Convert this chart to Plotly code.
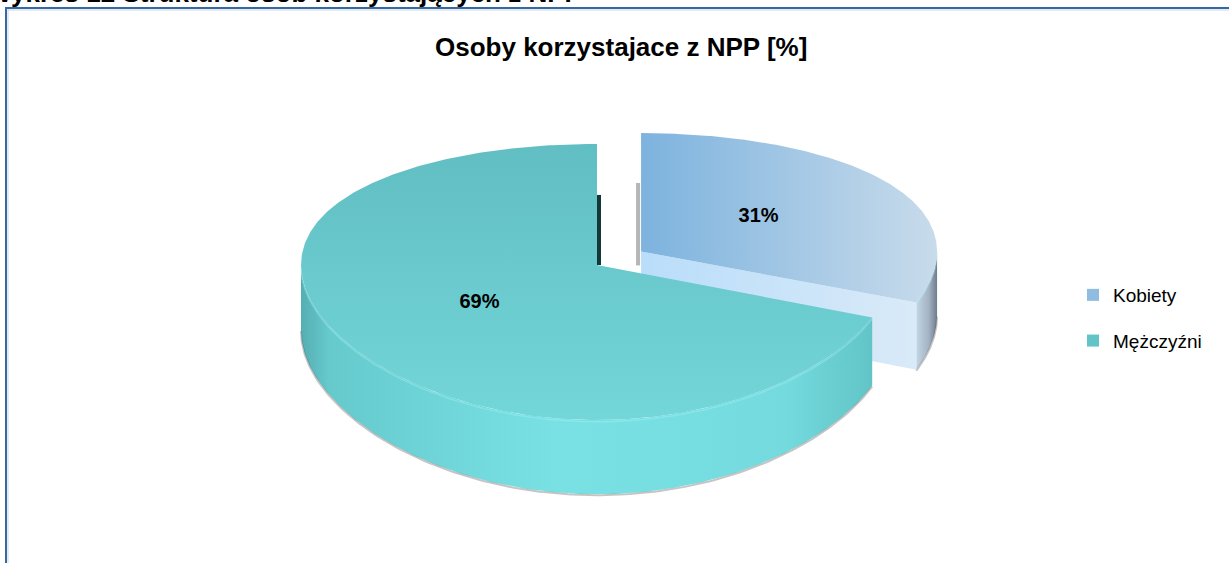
import numpy as np
import plotly.graph_objects as go

# ---------------- data ----------------
categories = ["Kobiety", "Mężczyźni"]
values = [31, 69]
label_text = ["31%", "69%"]
explode = [0.18, 0.0]

title_text = "Osoby korzystajace z NPP [%]"
caption_text = "Wykres 12 Struktura osób korzystających z NPP"

# ---------------- styles ----------------
W, Hfig = 1229, 563
FONT = "Liberation Sans, Arial, sans-serif"
styles = {
    "Kobiety": dict(
        top=dict(type="horizontal", colorscale=[[0, "#7db3de"], [1, "#c8dbeb"]]),
        wall=dict(type="horizontal", colorscale=[[0, "#c2d6e6"], [0.6, "#a3b3c3"], [1, "#6f7c8a"]]),
        cut=dict(type="horizontal", colorscale=[[0, "#b9ddfa"], [1, "#d9eaf8"]]),
        legend="#8fbce0",
    ),
    "Mężczyźni": dict(
        top=dict(type="vertical", colorscale=[[0, "#61bec2"], [1, "#73d6d9"]]),
        wall=dict(type="horizontal", colorscale=[[0, "#55aeb2"], [0.05, "#66cacd"], [0.45, "#79e1e4"],
                                                 [0.85, "#74dadd"], [1, "#62c4c7"]]),
        cut=dict(type="horizontal", colorscale=[[0, "#5fb8bc"], [1, "#6fd0d3"]]),
        legend="#63c4c7",
    ),
}

# projection geometry (3D tilted pie)
CX, CY = 597.0, 265.0
SX, KS = 296.0, 136.0
PERSP = 0.123
DEPTH = 65.0


def proj(X, Y, h=0.0):
    X = np.asarray(X, float)
    Y = np.asarray(Y, float)
    w = 1 + PERSP * Y
    return CX + SX * X, CY + (-KS * Y + h) / w


fig = go.Figure()

total = float(sum(values))
bounds = []
acc = 0.0
for v in values:
    a0 = acc / total * 360.0
    acc += v
    a1 = acc / total * 360.0
    bounds.append((a0, a1))

slices = []
for i, cat in enumerate(categories):
    a0, a1 = bounds[i]
    mid = np.radians((a0 + a1) / 2)
    ox, oy = explode[i] * np.sin(mid), explode[i] * np.cos(mid)
    slices.append(dict(cat=cat, a0=a0, a1=a1, ox=ox, oy=oy, depthkey=np.cos(mid)))

order = sorted(range(len(slices)), key=lambda k: -slices[k]["depthkey"])


def arc(s, t0, t1, h=0.0, n=200):
    th = np.radians(np.linspace(t0, t1, n))
    return proj(s["ox"] + np.sin(th), s["oy"] + np.cos(th), h)


def grad(spec, xs, ys):
    g = dict(spec)
    if g["type"] == "horizontal":
        g["start"], g["stop"] = float(np.min(xs)), float(np.max(xs))
    else:
        g["start"], g["stop"] = float(np.min(ys)), float(np.max(ys))
    return g


for k in order:
    s = slices[k]
    st = styles[s["cat"]]
    # edge-on shadow of the cut face at the 12 o'clock boundary
    vx0, vy0 = proj([s["ox"]], [s["oy"]])
    if s["a0"] == 0:
        tx, ty = proj([s["ox"]], [s["oy"] + 0.55])
        fig.add_trace(go.Scatter(x=[vx0[0] - 3, tx[0] - 3], y=[vy0[0] + 14, ty[0]], mode="lines",
                                 line=dict(color="rgba(110,110,110,0.5)", width=4),
                                 showlegend=False, hoverinfo="skip"))
    if s["a1"] == 360:
        tx, ty = proj([s["ox"]], [s["oy"] + 0.55])
        fig.add_trace(go.Scatter(x=[vx0[0] + 2, tx[0] + 2], y=[vy0[0], ty[0]], mode="lines",
                                 line=dict(color="#14383a", width=4),
                                 showlegend=False, hoverinfo="skip"))
    # outer wall (front-facing part only)
    w0, w1 = max(s["a0"], 90.0), min(s["a1"], 270.0)
    if w1 > w0:
        xt, yt = arc(s, w0, w1, 0)
        xb, yb = arc(s, w0, w1, DEPTH)
        xs = np.concatenate([xt, xb[::-1]])
        ys = np.concatenate([yt, yb[::-1]])
        fig.add_trace(go.Scatter(x=xs, y=ys, mode="lines", fill="toself", line=dict(width=0),
                                 fillgradient=grad(st["wall"], xs, ys), showlegend=False, hoverinfo="skip"))
        # soft shadow along bottom edge
        fig.add_trace(go.Scatter(x=xb, y=yb + 1, mode="lines", line=dict(color="rgba(90,90,90,0.35)", width=2),
                                 showlegend=False, hoverinfo="skip"))
    # cut face at end angle (visible if facing front)
    if np.sin(np.radians(s["a1"])) > 1e-6 and s["a1"] < 360:
        ex, ey = s["ox"] + np.sin(np.radians(s["a1"])), s["oy"] + np.cos(np.radians(s["a1"]))
        px = [s["ox"], ex, ex, s["ox"]]
        py = [s["oy"], ey, ey, s["oy"]]
        ph = [0, 0, DEPTH, DEPTH]
        xs, ys = proj(px, py, np.array(ph, float))
        xs, ys = np.append(xs, xs[0]), np.append(ys, ys[0])
        fig.add_trace(go.Scatter(x=xs, y=ys, mode="lines", fill="toself", line=dict(width=0),
                                 fillgradient=grad(st["cut"], xs, ys), showlegend=False, hoverinfo="skip"))
    # top face
    xa, ya = arc(s, s["a0"], s["a1"], 0, n=400)
    xs = np.concatenate([vx0, xa, vx0])
    ys = np.concatenate([vy0, ya, vy0])
    fig.add_trace(go.Scatter(x=xs, y=ys, mode="lines", fill="toself", line=dict(width=0),
                             fillgradient=grad(st["top"], xs, ys), name=s["cat"], showlegend=False,
                             hoverinfo="name"))
    # subtle highlight on the front rim
    if w1 > w0:
        xt, yt = arc(s, w0, w1, 1.5)
        fig.add_trace(go.Scatter(x=xt, y=yt, mode="lines", line=dict(color="rgba(170,245,245,0.35)", width=1.5),
                                 showlegend=False, hoverinfo="skip"))

# data labels
lx, ly = [], []
for s in slices:
    mid = np.radians((s["a0"] + s["a1"]) / 2)
    x, y = proj([s["ox"] + 0.48 * np.sin(mid)], [s["oy"] + 0.48 * np.cos(mid)])
    lx.append(float(x[0]))
    ly.append(float(y[0]))
fig.add_trace(go.Scatter(x=lx, y=ly, mode="text", text=label_text, showlegend=False, hoverinfo="skip",
                         textfont=dict(family=FONT, size=20, color="#000000"), texttemplate="<b>%{text}</b>"))

# legend entries
for i, cat in enumerate(categories):
    fig.add_trace(go.Scatter(x=[None], y=[None], mode="markers", name=cat, legendgroup=cat,
                             marker=dict(symbol="square", size=11, color=styles[cat]["legend"])))

fig.update_layout(
    width=W, height=Hfig,
    margin=dict(l=0, r=0, t=0, b=0),
    paper_bgcolor="white", plot_bgcolor="white",
    xaxis=dict(range=[0, W], visible=False, fixedrange=True),
    yaxis=dict(range=[Hfig, 0], visible=False, fixedrange=True),
    showlegend=True,
    legend=dict(x=1073 / W, y=1 - 318 / Hfig, xanchor="left", yanchor="middle",
                font=dict(family=FONT, size=19, color="#000000"), tracegroupgap=18,
                traceorder="grouped", bgcolor="rgba(0,0,0,0)", itemsizing="constant"),
    annotations=[
        dict(text="<b>" + title_text + "</b>", x=621 / W, y=1 - 47 / Hfig, xref="paper", yref="paper",
             showarrow=False, font=dict(family=FONT, size=26, color="#000000"), xanchor="center", yanchor="middle"),
        dict(text="<b>" + caption_text + "</b>", x=-14 / W, y=1 - 9 / Hfig, xref="paper", yref="paper",
             showarrow=False, font=dict(family=FONT, size=26, color="#000000"), xanchor="left", yanchor="bottom",
             borderpad=0),
    ],
    shapes=[
        dict(type="line", xref="paper", yref="paper", x0=6 / W, x1=6 / W, y0=0, y1=1 - 7 / Hfig,
             line=dict(color="#35699f", width=2)),
        dict(type="line", xref="paper", yref="paper", x0=5 / W, x1=1, y0=1 - 8 / Hfig, y1=1 - 8 / Hfig,
             line=dict(color="#35699f", width=2)),
        dict(type="line", xref="paper", yref="paper", x0=8 / W, x1=8 / W, y0=0, y1=1 - 9 / Hfig,
             line=dict(color="#c5d6e8", width=1)),
        dict(type="line", xref="paper", yref="paper", x0=8 / W, x1=1, y0=1 - 10 / Hfig, y1=1 - 10 / Hfig,
             line=dict(color="#c5d6e8", width=1)),
    ],
)

fig.write_html("out.html", config={"displayModeBar": False},
               post_script="document.body.style.margin='0';document.body.style.overflow='hidden';")
